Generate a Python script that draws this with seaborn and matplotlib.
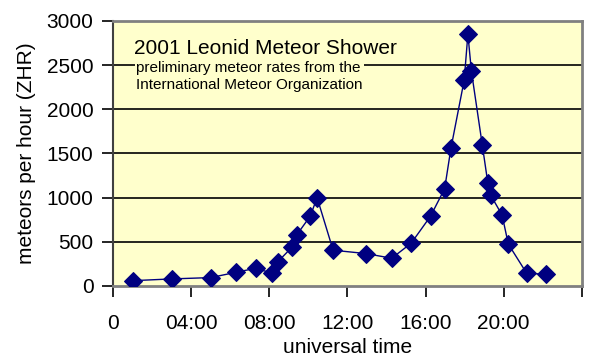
import pandas as pd
import matplotlib.pyplot as plt
import seaborn as sns

# ==========================================================
# Data
# ==========================================================

hours = [1.0, 3.0, 5.0, 6.3, 7.3, 8.15, 8.45, 9.15, 9.4, 10.1, 10.45, 11.27,
         12.95, 14.27, 15.27, 16.26, 16.98, 17.3, 17.98, 18.17, 18.35, 18.91,
         19.19, 19.34, 19.92, 20.24, 21.18, 22.17]
zhr = [60, 80, 95, 155, 200, 145, 277, 436, 576, 791, 1000, 405,
       367, 314, 485, 791, 1102, 1557, 2330, 2850, 2432, 1591,
       1167, 1027, 803, 474, 144, 133]

x_ticks = [0, 4, 8, 12, 16, 20, 24]
x_tick_labels = ["0", "04:00", "08:00", "12:00", "16:00", "20:00", ""]
y_ticks = [0, 500, 1000, 1500, 2000, 2500, 3000]

title = "2001 Leonid Meteor Shower"
subtitle = "preliminary meteor rates from the\nInternational Meteor Organization"

# ==========================================================
# Plot
# ==========================================================

sns.set_style("white")
plt.rcParams["font.family"] = ["Liberation Sans", "DejaVu Sans"]
plt.rcParams["text.color"] = "black"
plt.rcParams["axes.labelcolor"] = "black"
plt.rcParams["xtick.color"] = "black"
plt.rcParams["ytick.color"] = "black"

df = pd.DataFrame({"hour": hours, "zhr": zhr})

fig = plt.figure(figsize=(6.01, 3.6), dpi=100)
ax = fig.add_axes([0.188, 0.2056, 0.780, 0.7361])
ax.set_facecolor("#FFFFCC")

for y in y_ticks[1:-1]:
    ax.axhline(y, color="black", linewidth=1.2, zorder=1)

sns.lineplot(data=df, x="hour", y="zhr", ax=ax, color="#000080",
             linewidth=1.0, marker="D", markersize=9,
             markeredgecolor="#000080", zorder=3)

ax.set_xlim(0, 24)
ax.set_ylim(0, 3000)
ax.set_xticks(x_ticks)
ax.set_xticklabels(x_tick_labels, fontsize=15)
ax.set_yticks(y_ticks)
ax.set_yticklabels([str(v) for v in y_ticks], fontsize=15)
ax.tick_params(axis="both", direction="out", length=8, width=1.2,
               color="black", pad=6, left=True, bottom=True)
ax.tick_params(axis="x", pad=12)

ax.set_xlabel("universal time", fontsize=15, labelpad=4)
ax.set_ylabel("meteors per hour (ZHR)", fontsize=15, labelpad=8)

for side in ["top", "right", "bottom"]:
    ax.spines[side].set_color("#808080")
    ax.spines[side].set_linewidth(2)
ax.spines["left"].set_color("#404040")
ax.spines["left"].set_linewidth(1.5)

ax.text(0.045, 0.895, title, transform=ax.transAxes, fontsize=15,
        va="center", ha="left", zorder=4,
        bbox=dict(facecolor="#FFFFCC", edgecolor="none", pad=1))
ax.text(0.05, 0.79, subtitle, transform=ax.transAxes, fontsize=11,
        va="center", ha="left", linespacing=1.25, zorder=4,
        bbox=dict(facecolor="#FFFFCC", edgecolor="none", pad=1))

plt.savefig("out.png", dpi=100)
plt.close()
